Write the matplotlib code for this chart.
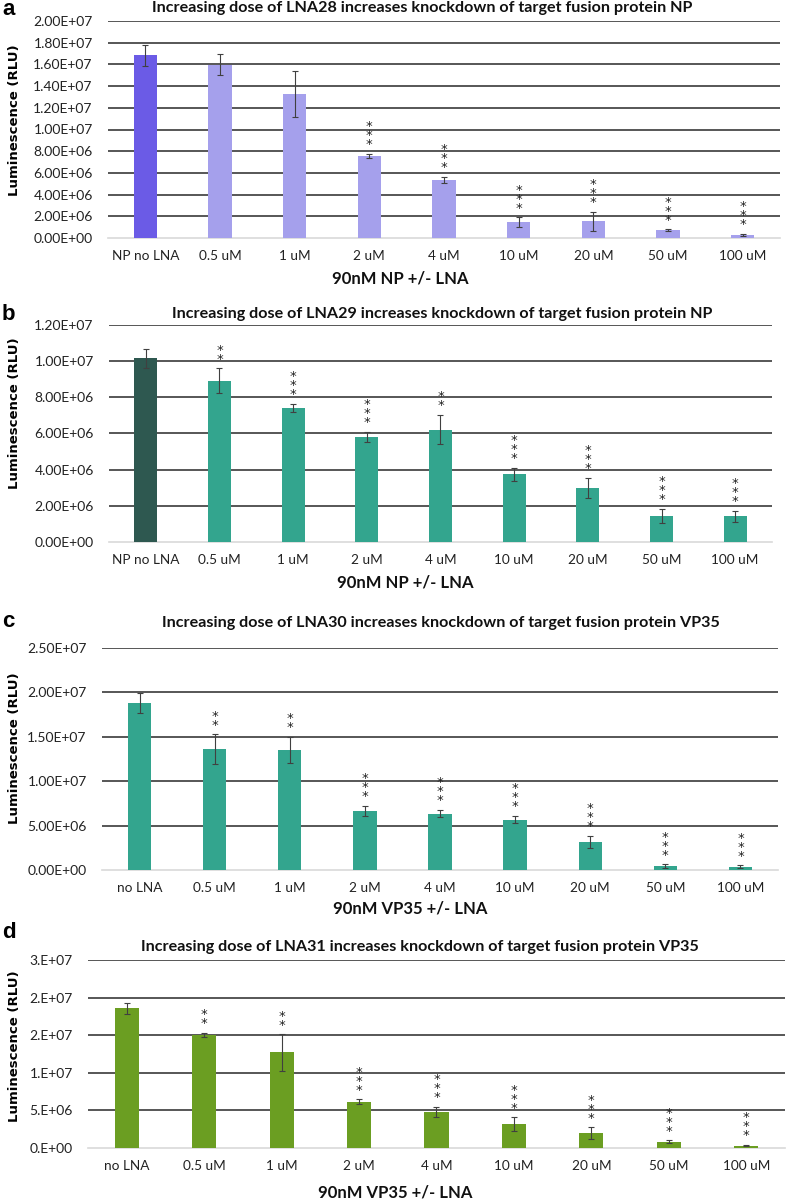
import numpy as np
import matplotlib.pyplot as plt

plt.rcParams['font.family'] = ['Lato', 'DejaVu Sans']

W, H = 787, 1200

# categories
cats_np = ['NP no LNA', '0.5 uM', '1 uM', '2 uM', '4 uM', '10 uM', '20 uM', '50 uM', '100 uM']
cats_vp = ['no LNA', '0.5 uM', '1 uM', '2 uM', '4 uM', '10 uM', '20 uM', '50 uM', '100 uM']

# panel a: LNA28 on NP
a_vals = [16.85e6, 15.97e6, 13.28e6, 7.57e6, 5.34e6, 1.44e6, 1.53e6, 0.70e6, 0.27e6]
a_err = [0.97e6, 0.95e6, 2.1e6, 0.2e6, 0.28e6, 0.46e6, 0.88e6, 0.1e6, 0.1e6]
a_stars = ['', '', '', '***', '***', '***', '***', '***', '***']
a_ticks = [0, 2e6, 4e6, 6e6, 8e6, 10e6, 12e6, 14e6, 16e6, 18e6, 20e6]

# panel b: LNA29 on NP
b_vals = [10.17e6, 8.92e6, 7.41e6, 5.82e6, 6.22e6, 3.75e6, 2.99e6, 1.42e6, 1.42e6]
b_err = [0.53e6, 0.68e6, 0.22e6, 0.29e6, 0.82e6, 0.36e6, 0.55e6, 0.39e6, 0.32e6]
b_stars = ['', '**', '***', '***', '**', '***', '***', '***', '***']
b_ticks = [0, 2e6, 4e6, 6e6, 8e6, 10e6, 12e6]

# panel c: LNA30 on VP35
c_vals = [18.8e6, 13.6e6, 13.5e6, 6.69e6, 6.35e6, 5.68e6, 3.12e6, 0.45e6, 0.38e6]
c_err = [1.09e6, 1.67e6, 1.5e6, 0.56e6, 0.41e6, 0.39e6, 0.68e6, 0.17e6, 0.13e6]
c_stars = ['', '**', '**', '***', '***', '***', '***', '***', '***']
c_ticks = [0, 5e6, 10e6, 15e6, 20e6, 25e6]

# panel d: LNA31 on VP35
d_vals = [18.58e6, 15.04e6, 12.7e6, 6.17e6, 4.78e6, 3.13e6, 1.99e6, 0.8e6, 0.31e6]
d_err = [0.7e6, 0.3e6, 2.4e6, 0.3e6, 0.7e6, 0.93e6, 0.75e6, 0.2e6, 0.1e6]
d_stars = ['', '**', '**', '***', '***', '***', '***', '***', '***']
d_ticks = [0, 5e6, 10e6, 15e6, 20e6, 25e6]
d_ticklabels = ['0.E+00', '5.E+06', '1.E+07', '2.E+07', '2.E+07', '3.E+07']

lavender = '#a5a0ec'
slate = '#6b5be6'
teal = '#33a58e'
dark_teal = '#2e5850'
green = '#6b9e22'

panels = [
    dict(letter='a', cats=cats_np, vals=a_vals, err=a_err, stars=a_stars, ticks=a_ticks, labels=None,
         colors=[slate] + [lavender] * 8,
         title='Increasing dose of LNA28 increases knockdown of target fusion protein NP',
         xlabel='90nM NP +/- LNA',
         box=(108, 21, 780, 238), title_xy=(422, 8), letter_y=15, xlabel_xy=(400, 278), ylabel_y=120),
    dict(letter='b', cats=cats_np, vals=b_vals, err=b_err, stars=b_stars, ticks=b_ticks, labels=None,
         colors=[dark_teal] + [teal] * 8,
         title='Increasing dose of LNA29 increases knockdown of target fusion protein NP',
         xlabel='90nM NP +/- LNA',
         box=(109, 325, 772, 542), title_xy=(442, 314), letter_y=320, xlabel_xy=(405, 583), ylabel_y=413),
    dict(letter='c', cats=cats_vp, vals=c_vals, err=c_err, stars=c_stars, ticks=c_ticks, labels=None,
         colors=[teal] * 9,
         title='Increasing dose of LNA30 increases knockdown of target fusion protein VP35',
         xlabel='90nM VP35 +/- LNA',
         box=(102, 648, 778, 870), title_xy=(441, 623), letter_y=627, xlabel_xy=(410, 909), ylabel_y=748),
    dict(letter='d', cats=cats_vp, vals=d_vals, err=d_err, stars=d_stars, ticks=d_ticks, labels=d_ticklabels,
         colors=[green] * 9,
         title='Increasing dose of LNA31 increases knockdown of target fusion protein VP35',
         xlabel='90nM VP35 +/- LNA',
         box=(88, 960, 785, 1148), title_xy=(420, 947), letter_y=938, xlabel_xy=(395, 1192), ylabel_y=1046),
]

fig = plt.figure(figsize=(W / 100, H / 100), dpi=100)

for p in panels:
    l, t, r, b = p['box']
    ax = fig.add_axes([l / W, 1 - b / H, (r - l) / W, (b - t) / H])
    x = np.arange(len(p['cats']))
    ax.bar(x, p['vals'], width=0.31, color=p['colors'], zorder=3)
    ax.errorbar(x, p['vals'], yerr=p['err'], fmt='none', ecolor='#404040',
                elinewidth=0.8, capsize=2.5, capthick=0.8, zorder=4)
    for xi, v, e, s in zip(x, p['vals'], p['err'], p['stars']):
        if s:
            ax.annotate('\n'.join(s), (xi, v + e), xytext=(0, 2), textcoords='offset points',
                        ha='center', va='bottom', fontsize=9.5, linespacing=0.6,
                        family='DejaVu Sans', color='#222222', zorder=5)
    ymax = p['ticks'][-1]
    ax.set_ylim(0, ymax)
    ax.set_xlim(-0.5, len(x) - 0.5)
    for tk in p['ticks'][1:]:
        ax.axhline(tk, color='#3a3a3a', lw=1.2, zorder=1)
    ax.set_yticks(p['ticks'])
    if p['labels'] is None:
        ax.set_yticklabels(['%.2E' % tk for tk in p['ticks']])
    else:
        ax.set_yticklabels(p['labels'])
    ax.set_xticks(x)
    ax.set_xticklabels(p['cats'])
    ax.tick_params(axis='y', length=0, pad=11, labelsize=10, labelcolor='#222222')
    ax.tick_params(axis='x', length=0, pad=9, labelsize=9.8, labelcolor='#222222')
    for side in ['top', 'right', 'left']:
        ax.spines[side].set_visible(False)
    ax.spines['bottom'].set_color('#d9d9d9')
    ax.spines['bottom'].set_linewidth(1.2)

    tx, ty = p['title_xy']
    fig.text(tx / W, 1 - ty / H, p['title'], ha='center', va='center',
             fontsize=11.6, fontweight='bold', color='#111111')
    fx, fy = p['xlabel_xy']
    fig.text(fx / W, 1 - fy / H, p['xlabel'], ha='center', va='center',
             fontsize=12, fontweight='bold', color='#111111')
    fig.text(15 / W, 1 - p['ylabel_y'] / H, 'Luminescence (RLU)', rotation=90,
             ha='center', va='center', fontsize=9.5, fontweight='bold', family='DejaVu Sans')
    fig.text(2 / W, 1 - p['letter_y'] / H, p['letter'], ha='left', va='baseline',
             fontsize=16, fontweight='bold', family='Liberation Sans')

fig.savefig('out.png', dpi=100)
